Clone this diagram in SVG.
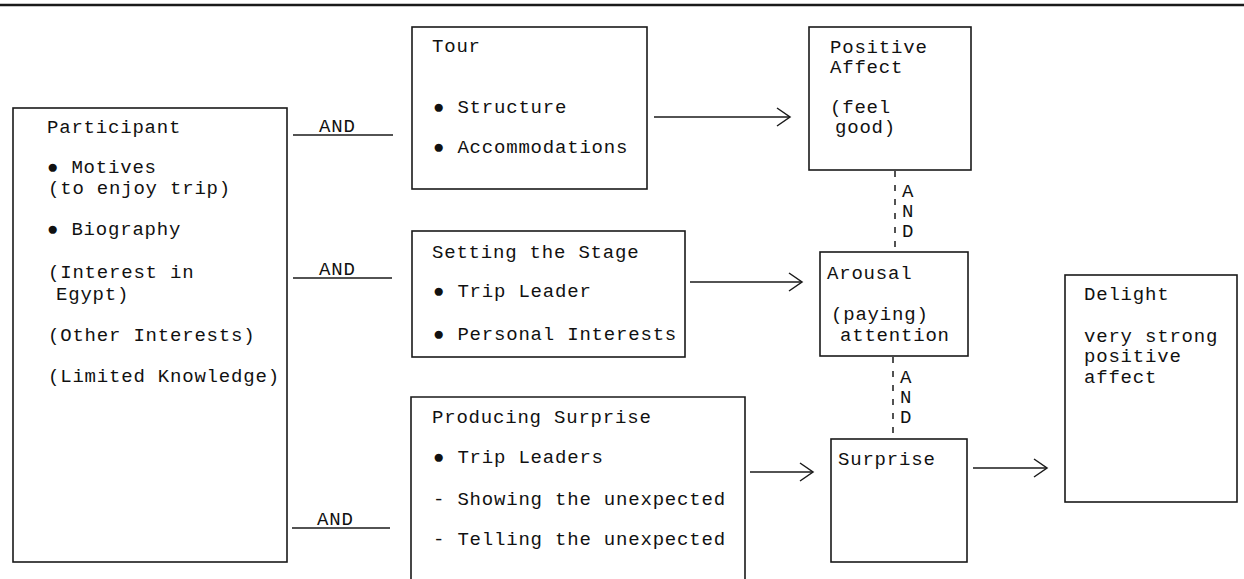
<svg xmlns="http://www.w3.org/2000/svg" width="1244" height="579" viewBox="0 0 1244 579">
<defs>
<style>
.box{fill:#fff;stroke:#1a1a1a;stroke-width:1.6}
.t{font-family:"Liberation Mono","Courier New",monospace;font-size:19px;letter-spacing:0.8px;fill:#111}
.c{stroke:#1a1a1a;stroke-width:1.5;fill:none}
.d{stroke:#1a1a1a;stroke-width:1.5;fill:none;stroke-dasharray:6 8}
</style>
<marker id="arr" markerUnits="userSpaceOnUse" markerWidth="16" markerHeight="22" refX="14" refY="11" orient="auto">
<path d="M1,2 L14,11 L1,20" fill="none" stroke="#1a1a1a" stroke-width="1.5"/>
</marker>
</defs>
<rect width="1244" height="579" fill="#fff"/>
<line x1="0" y1="5" x2="1244" y2="5" stroke="#1a1a1a" stroke-width="2.5"/>

<g id="participant">
<rect class="box" x="13" y="108" width="274" height="454"/>
<text class="t" x="47" y="133">Participant</text>
<text class="t" x="47" y="173">● Motives</text>
<text class="t" x="48" y="194">(to enjoy trip)</text>
<text class="t" x="47" y="235">● Biography</text>
<text class="t" x="48" y="278">(Interest in</text>
<text class="t" x="56" y="300">Egypt)</text>
<text class="t" x="48" y="341">(Other Interests)</text>
<text class="t" x="48" y="382">(Limited Knowledge)</text>
</g>

<g id="tour">
<rect class="box" x="412" y="27" width="235" height="162"/>
<text class="t" x="432" y="52">Tour</text>
<text class="t" x="433" y="113">● Structure</text>
<text class="t" x="433" y="153">● Accommodations</text>
</g>

<g id="setting-stage">
<rect class="box" x="412" y="231" width="273" height="126"/>
<text class="t" x="432" y="258">Setting the Stage</text>
<text class="t" x="433" y="297">● Trip Leader</text>
<text class="t" x="433" y="340">● Personal Interests</text>
</g>

<g id="producing-surprise">
<path class="box" d="M411,585 V397 H745 V585"/>
<text class="t" x="432" y="423">Producing Surprise</text>
<text class="t" x="433" y="463">● Trip Leaders</text>
<text class="t" x="433" y="505">- Showing the unexpected</text>
<text class="t" x="433" y="545">- Telling the unexpected</text>
</g>

<g id="positive-affect">
<rect class="box" x="809" y="27" width="162" height="143"/>
<text class="t" x="830" y="53">Positive</text>
<text class="t" x="830" y="73">Affect</text>
<text class="t" x="830" y="113">(feel</text>
<text class="t" x="835" y="133">good)</text>
</g>

<g id="arousal">
<rect class="box" x="820" y="252" width="148" height="104"/>
<text class="t" x="827" y="279">Arousal</text>
<text class="t" x="831" y="320">(paying)</text>
<text class="t" x="840" y="341">attention</text>
</g>

<g id="surprise">
<rect class="box" x="831" y="439" width="136" height="123"/>
<text class="t" x="838" y="465">Surprise</text>
</g>

<g id="delight">
<rect class="box" x="1065" y="275" width="172" height="227"/>
<text class="t" x="1084" y="300">Delight</text>
<text class="t" x="1084" y="342">very strong</text>
<text class="t" x="1084" y="362">positive</text>
<text class="t" x="1084" y="383">affect</text>
</g>

<g id="connectors">
<line class="c" x1="293" y1="135" x2="393" y2="135"/>
<text class="t" x="319" y="132">AND</text>
<line class="c" x1="293" y1="278" x2="392" y2="278"/>
<text class="t" x="319" y="275">AND</text>
<line class="c" x1="292" y1="528" x2="390" y2="528"/>
<text class="t" x="317" y="525">AND</text>

<line class="c" x1="654" y1="117" x2="790" y2="117" marker-end="url(#arr)"/>
<line class="c" x1="690" y1="282" x2="802" y2="282" marker-end="url(#arr)"/>
<line class="c" x1="750" y1="472" x2="813" y2="472" marker-end="url(#arr)"/>
<line class="c" x1="973" y1="468" x2="1047" y2="468" marker-end="url(#arr)"/>

<line class="d" x1="895" y1="171" x2="895" y2="251"/>
<text class="t" x="902" y="197">A</text>
<text class="t" x="902" y="217">N</text>
<text class="t" x="902" y="237">D</text>
<line class="d" x1="893" y1="357" x2="893" y2="438"/>
<text class="t" x="900" y="383">A</text>
<text class="t" x="900" y="403">N</text>
<text class="t" x="900" y="423">D</text>
</g>
</svg>
